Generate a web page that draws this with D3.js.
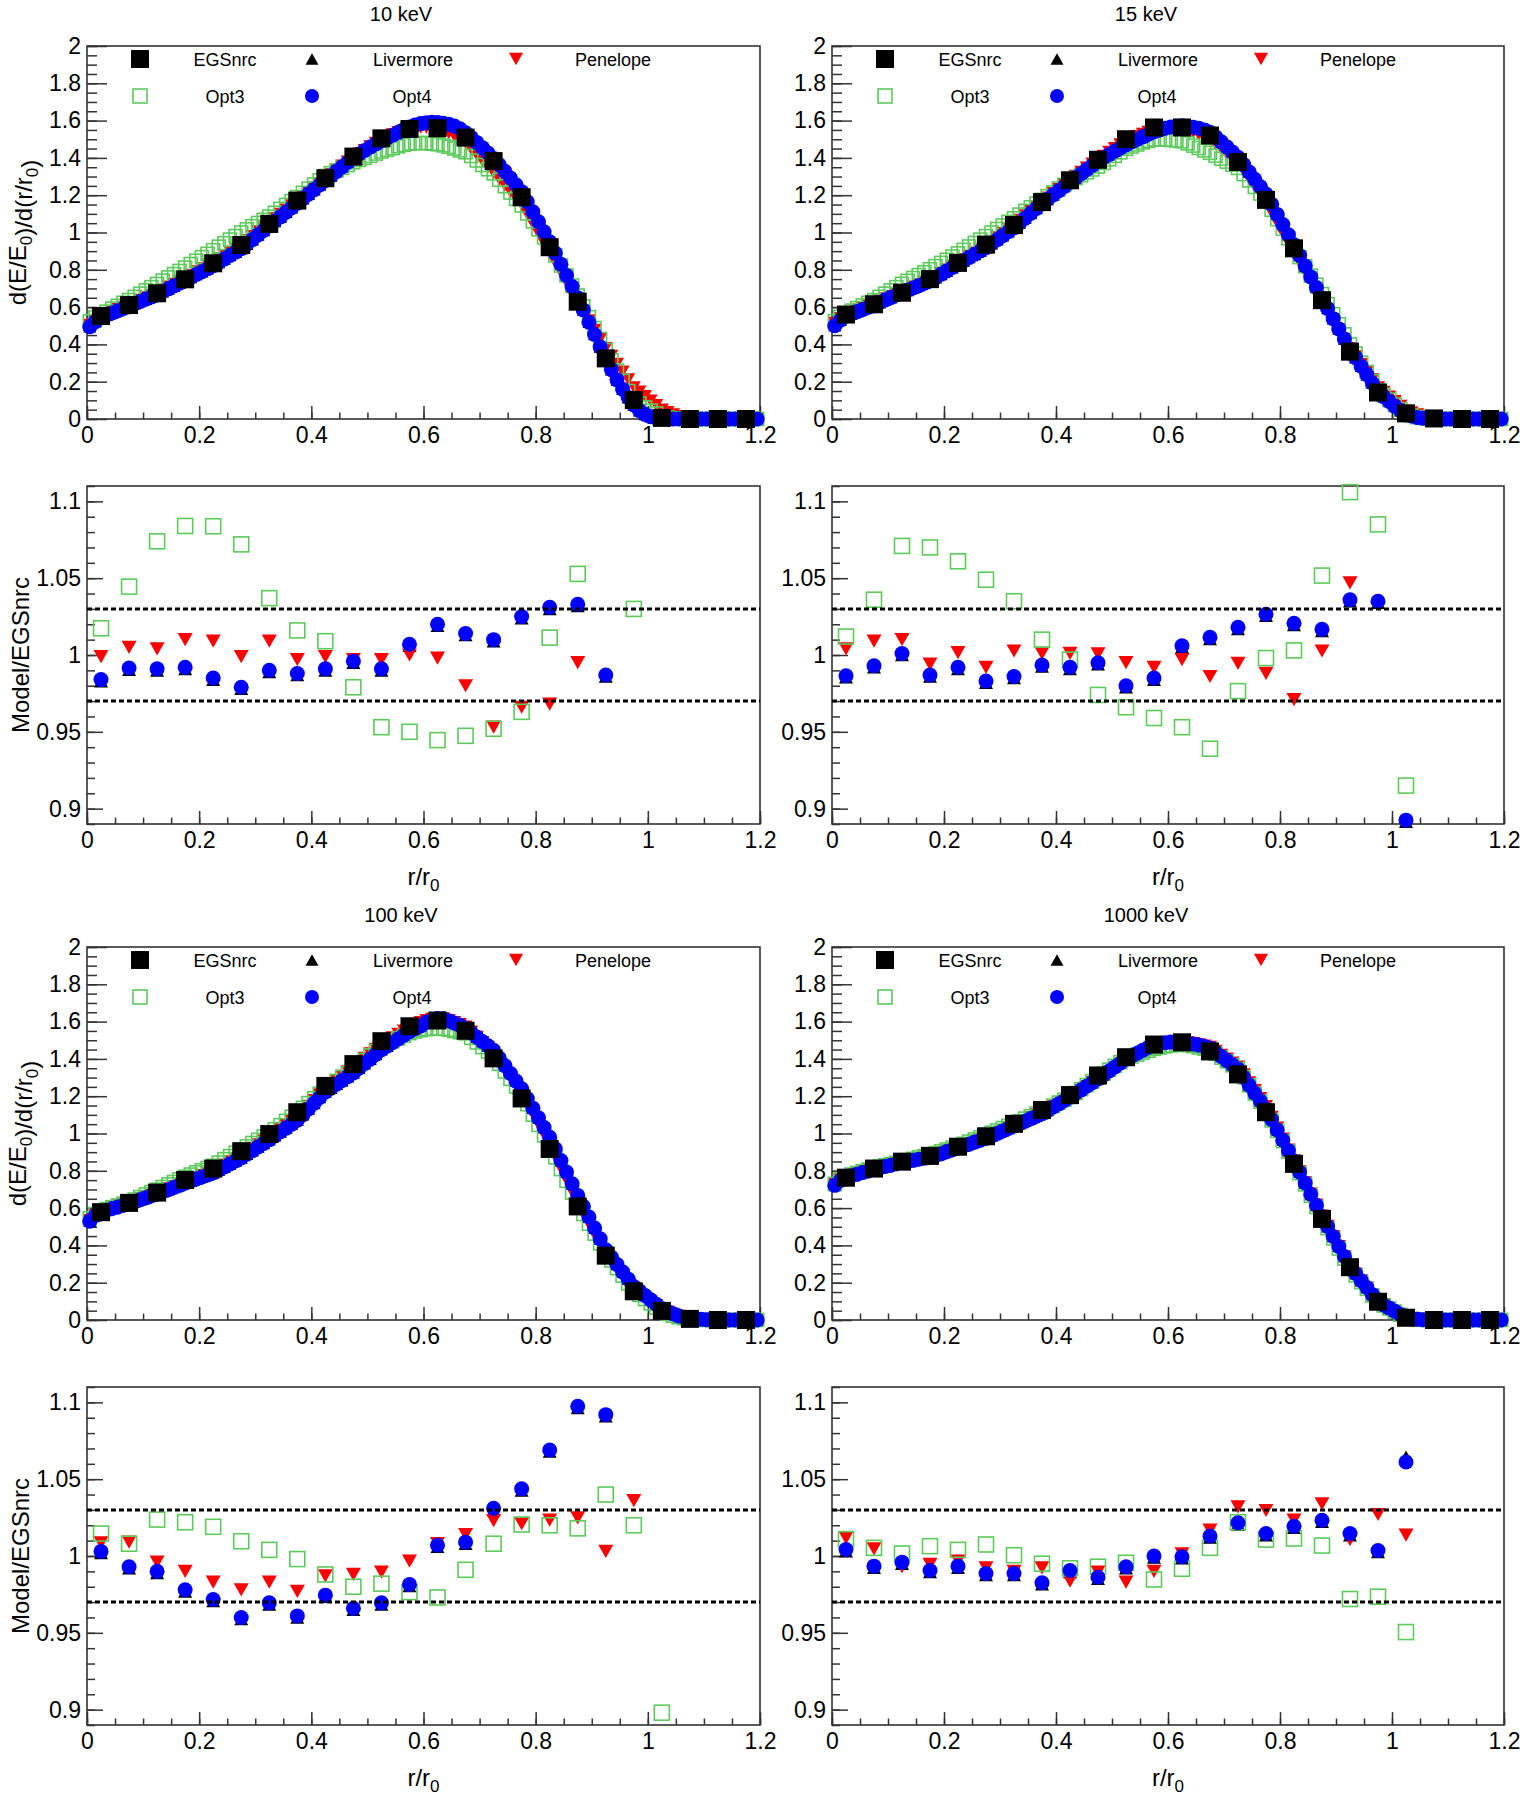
<!DOCTYPE html>
<html><head><meta charset="utf-8">
<script src="https://cdn.jsdelivr.net/npm/d3@7"></script>
<style>body{margin:0;background:#fff}</style>
</head><body><script>
// ---------------- DATA ----------------
const titles = ["10 keV", "15 keV", "100 keV", "1000 keV"];
const seriesNames = ["EGSnrc", "Livermore", "Penelope", "Opt3", "Opt4"];
const xTicks = [0, 0.2, 0.4, 0.6, 0.8, 1, 1.2];
const xTickLabels = ["0", "0.2", "0.4", "0.6", "0.8", "1", "1.2"];
const yMainTicks = [0, 0.2, 0.4, 0.6, 0.8, 1, 1.2, 1.4, 1.6, 1.8, 2];
const yMainTickLabels = ["0", "0.2", "0.4", "0.6", "0.8", "1", "1.2", "1.4", "1.6", "1.8", "2"];
const yRatioTicks = [0.9, 0.95, 1, 1.05, 1.1];
const yRatioTickLabels = ["0.9", "0.95", "1", "1.05", "1.1"];
const xDomain = [0, 1.2];
const yMainDomain = [0, 2];
const yRatioDomain = [0.89, 1.11];
const ratioBand = [0.97, 1.03];

// coarse bins (EGSnrc and ratios)
const rCoarse = [0.025,0.075,0.125,0.175,0.225,0.275,0.325,0.375,0.425,0.475,0.525,0.575,0.625,0.675,0.725,0.775,0.825,0.875,0.925,0.975,1.025,1.075,1.125,1.175];
// fine bins (Geant4 models)
const rFine = [
0.005,0.015,0.025,0.035,0.045,0.055,0.065,0.075,0.085,0.095,
0.105,0.115,0.125,0.135,0.145,0.155,0.165,0.175,0.185,0.195,
0.205,0.215,0.225,0.235,0.245,0.255,0.265,0.275,0.285,0.295,
0.305,0.315,0.325,0.335,0.345,0.355,0.365,0.375,0.385,0.395,
0.405,0.415,0.425,0.435,0.445,0.455,0.465,0.475,0.485,0.495,
0.505,0.515,0.525,0.535,0.545,0.555,0.565,0.575,0.585,0.595,
0.605,0.615,0.625,0.635,0.645,0.655,0.665,0.675,0.685,0.695,
0.705,0.715,0.725,0.735,0.745,0.755,0.765,0.775,0.785,0.795,
0.805,0.815,0.825,0.835,0.845,0.855,0.865,0.875,0.885,0.895,
0.905,0.915,0.925,0.935,0.945,0.955,0.965,0.975,0.985,0.995,
1.005,1.015,1.025,1.035,1.045,1.055,1.065,1.075,1.085,1.095,
1.105,1.115,1.125,1.135,1.145,1.155,1.165,1.175,1.185,1.195];

// EGSnrc
const egs10 = [0.552,0.611,0.674,0.749,0.835,0.933,1.046,1.171,1.291,1.407,1.505,1.555,1.559,1.509,1.383,1.189,0.921,0.629,0.325,0.102,0.006,0,0,0];
const egs15 = [0.560,0.615,0.677,0.750,0.837,0.935,1.040,1.163,1.280,1.390,1.500,1.563,1.563,1.520,1.378,1.175,0.915,0.637,0.361,0.142,0.030,0.003,0,0];
const egs100 = [0.578,0.628,0.683,0.751,0.812,0.905,0.997,1.114,1.255,1.372,1.495,1.575,1.606,1.551,1.403,1.188,0.917,0.609,0.345,0.154,0.049,0.006,0,0];
const egs1000 = [0.763,0.812,0.849,0.880,0.929,0.985,1.052,1.126,1.206,1.311,1.409,1.477,1.489,1.440,1.317,1.114,0.837,0.542,0.283,0.098,0.012,0,0,0];

// 10 keV fine
const opt4_10 = [0.495,0.522,0.543,0.557,0.569,0.581,0.593,0.606,0.618,0.630,
0.643,0.655,0.668,0.683,0.698,0.713,0.728,0.743,0.759,0.775,
0.790,0.806,0.822,0.840,0.858,0.877,0.895,0.913,0.937,0.962,
0.987,1.011,1.036,1.060,1.084,1.109,1.133,1.157,1.181,1.206,
1.230,1.255,1.279,1.303,1.328,1.352,1.377,1.401,1.421,1.440,
1.458,1.475,1.491,1.507,1.522,1.537,1.552,1.566,1.576,1.584,
1.589,1.591,1.590,1.586,1.580,1.571,1.556,1.535,1.510,1.483,
1.455,1.426,1.397,1.363,1.328,1.292,1.256,1.219,1.165,1.111,
1.058,1.004,0.950,0.890,0.830,0.770,0.710,0.650,0.585,0.519,
0.453,0.387,0.321,0.265,0.210,0.160,0.115,0.075,0.045,0.025,
0.012,0.005,0.002,0.001,0,0,0,0,0,0,
0,0,0,0,0,0,0,0,0,0];
const liv10 = [0.495,0.522,0.543,0.557,0.569,0.581,0.593,0.606,0.618,0.630,
0.643,0.655,0.668,0.683,0.698,0.713,0.728,0.743,0.759,0.775,
0.790,0.806,0.822,0.840,0.858,0.877,0.895,0.913,0.937,0.962,
0.987,1.011,1.036,1.060,1.084,1.109,1.133,1.157,1.181,1.206,
1.230,1.255,1.279,1.303,1.328,1.352,1.377,1.401,1.421,1.440,
1.458,1.475,1.491,1.507,1.522,1.537,1.552,1.566,1.576,1.584,
1.589,1.591,1.590,1.586,1.580,1.571,1.556,1.535,1.510,1.483,
1.455,1.426,1.397,1.363,1.328,1.292,1.256,1.219,1.165,1.111,
1.058,1.004,0.950,0.890,0.830,0.770,0.710,0.650,0.585,0.519,
0.453,0.387,0.321,0.265,0.210,0.160,0.115,0.075,0.045,0.025,
0.012,0.005,0.002,0.001,0,0,0,0,0,0,
0,0,0,0,0,0,0,0,0,0];
const pen10 = [0.505,0.530,0.551,0.564,0.576,0.589,0.601,0.614,0.627,0.639,
0.652,0.664,0.677,0.693,0.709,0.724,0.740,0.756,0.773,0.791,
0.808,0.826,0.843,0.861,0.879,0.896,0.914,0.932,0.957,0.981,
1.006,1.030,1.055,1.077,1.100,1.122,1.145,1.167,1.192,1.216,
1.241,1.265,1.290,1.313,1.335,1.358,1.380,1.403,1.423,1.442,
1.462,1.481,1.500,1.513,1.526,1.538,1.548,1.555,1.560,1.562,
1.562,1.560,1.556,1.547,1.533,1.517,1.499,1.479,1.447,1.415,
1.383,1.350,1.318,1.284,1.250,1.217,1.183,1.149,1.098,1.046,
0.995,0.943,0.892,0.839,0.786,0.732,0.679,0.626,0.577,0.528,
0.478,0.429,0.380,0.338,0.296,0.254,0.212,0.170,0.146,0.122,
0.098,0.074,0.050,0.037,0.025,0.015,0.008,0.004,0.002,0.001,
0,0,0,0,0,0,0,0,0,0];
const opt3_10 = [0.525,0.545,0.561,0.576,0.592,0.607,0.623,0.638,0.655,0.672,
0.690,0.707,0.724,0.742,0.759,0.777,0.794,0.812,0.831,0.849,
0.868,0.886,0.905,0.924,0.943,0.962,0.981,1.000,1.017,1.034,
1.051,1.068,1.085,1.106,1.127,1.148,1.169,1.190,1.213,1.235,
1.258,1.280,1.303,1.318,1.333,1.347,1.362,1.377,1.389,1.400,
1.411,1.423,1.434,1.443,1.452,1.462,1.470,1.477,1.479,1.480,
1.479,1.476,1.473,1.467,1.459,1.450,1.440,1.430,1.410,1.386,
1.362,1.339,1.317,1.283,1.248,1.214,1.180,1.145,1.102,1.060,
1.017,0.974,0.931,0.877,0.823,0.770,0.716,0.662,0.604,0.546,
0.488,0.429,0.370,0.315,0.260,0.205,0.150,0.105,0.083,0.062,
0.045,0.030,0.015,0.008,0.004,0.002,0.001,0,0,0,
0,0,0,0,0,0,0,0,0,0];

// 15 keV fine
const opt4_15 = [0.500,0.530,0.552,0.564,0.576,0.587,0.599,0.611,0.624,0.638,
0.651,0.665,0.678,0.690,0.703,0.715,0.728,0.740,0.758,0.776,
0.794,0.812,0.830,0.848,0.866,0.883,0.901,0.919,0.940,0.961,
0.983,1.004,1.025,1.051,1.077,1.103,1.129,1.155,1.178,1.201,
1.224,1.247,1.270,1.293,1.315,1.338,1.360,1.383,1.401,1.418,
1.436,1.453,1.470,1.485,1.499,1.513,1.527,1.540,1.550,1.559,
1.566,1.570,1.572,1.570,1.565,1.559,1.550,1.537,1.513,1.486,
1.459,1.431,1.403,1.364,1.324,1.285,1.245,1.206,1.152,1.097,
1.043,0.988,0.934,0.877,0.820,0.762,0.705,0.648,0.593,0.538,
0.483,0.429,0.374,0.329,0.283,0.238,0.192,0.147,0.120,0.094,
0.068,0.045,0.027,0.016,0.008,0.004,0.002,0.001,0,0,
0,0,0,0,0,0,0,0,0,0];
const liv15 = [0.500,0.530,0.552,0.564,0.576,0.587,0.599,0.611,0.624,0.638,
0.651,0.665,0.678,0.690,0.703,0.715,0.728,0.740,0.758,0.776,
0.794,0.812,0.830,0.848,0.866,0.883,0.901,0.919,0.940,0.961,
0.983,1.004,1.025,1.051,1.077,1.103,1.129,1.155,1.178,1.201,
1.224,1.247,1.270,1.293,1.315,1.338,1.360,1.383,1.401,1.418,
1.436,1.453,1.470,1.485,1.499,1.513,1.527,1.540,1.550,1.559,
1.566,1.570,1.572,1.570,1.565,1.559,1.550,1.537,1.513,1.486,
1.459,1.431,1.403,1.364,1.324,1.285,1.245,1.206,1.152,1.097,
1.043,0.988,0.934,0.877,0.820,0.762,0.705,0.648,0.593,0.538,
0.483,0.429,0.374,0.329,0.283,0.238,0.192,0.147,0.120,0.094,
0.068,0.045,0.027,0.016,0.008,0.004,0.002,0.001,0,0,
0,0,0,0,0,0,0,0,0,0];
const pen15 = [0.515,0.541,0.562,0.574,0.586,0.597,0.609,0.621,0.634,0.646,
0.659,0.671,0.684,0.696,0.709,0.721,0.734,0.746,0.764,0.783,
0.801,0.820,0.838,0.856,0.874,0.892,0.910,0.928,0.951,0.974,
0.997,1.020,1.043,1.067,1.091,1.116,1.140,1.164,1.187,1.211,
1.234,1.258,1.281,1.303,1.325,1.347,1.369,1.391,1.411,1.432,
1.452,1.473,1.493,1.505,1.517,1.528,1.540,1.550,1.554,1.557,
1.559,1.559,1.558,1.549,1.537,1.525,1.512,1.499,1.473,1.448,
1.422,1.397,1.371,1.329,1.287,1.245,1.203,1.161,1.106,1.052,
0.997,0.943,0.888,0.838,0.788,0.739,0.689,0.639,0.587,0.535,
0.482,0.430,0.378,0.336,0.294,0.254,0.212,0.170,0.145,0.120,
0.095,0.070,0.045,0.035,0.025,0.017,0.012,0.008,0.005,0.003,
0.002,0.001,0,0,0,0,0,0,0,0];
const opt3_15 = [0.525,0.548,0.567,0.581,0.595,0.609,0.623,0.637,0.655,0.672,
0.690,0.707,0.725,0.741,0.756,0.772,0.787,0.803,0.820,0.837,
0.854,0.871,0.888,0.907,0.925,0.944,0.962,0.981,1.000,1.019,
1.038,1.057,1.076,1.096,1.116,1.135,1.155,1.175,1.195,1.215,
1.236,1.256,1.276,1.292,1.307,1.323,1.338,1.354,1.373,1.392,
1.411,1.430,1.449,1.461,1.472,1.483,1.492,1.499,1.500,1.499,
1.496,1.493,1.489,1.478,1.466,1.453,1.440,1.427,1.412,1.396,
1.380,1.364,1.346,1.313,1.279,1.244,1.209,1.173,1.122,1.071,
1.020,0.969,0.918,0.868,0.819,0.769,0.720,0.670,0.616,0.562,
0.508,0.454,0.400,0.351,0.302,0.252,0.203,0.154,0.129,0.104,
0.078,0.053,0.028,0.018,0.010,0.005,0.003,0.001,0,0,
0,0,0,0,0,0,0,0,0,0];

// 100 keV fine
const opt4_100 = [0.530,0.560,0.580,0.589,0.598,0.606,0.615,0.624,0.634,0.645,
0.655,0.666,0.676,0.688,0.699,0.711,0.722,0.734,0.745,0.756,
0.767,0.778,0.789,0.805,0.821,0.837,0.853,0.869,0.889,0.908,
0.928,0.947,0.967,0.988,1.009,1.029,1.050,1.071,1.101,1.132,
1.162,1.193,1.223,1.243,1.264,1.284,1.305,1.325,1.350,1.375,
1.399,1.424,1.449,1.468,1.488,1.507,1.527,1.546,1.562,1.577,
1.596,1.610,1.617,1.615,1.605,1.592,1.580,1.565,1.541,1.517,
1.493,1.470,1.446,1.405,1.364,1.322,1.281,1.240,1.188,1.136,
1.084,1.032,0.980,0.918,0.855,0.793,0.730,0.668,0.610,0.552,
0.493,0.435,0.377,0.337,0.298,0.258,0.219,0.180,0.156,0.132,
0.108,0.084,0.060,0.046,0.033,0.022,0.014,0.010,0.006,0.004,
0.002,0.001,0,0,0,0,0,0,0,0];
const liv100 = [0.530,0.560,0.580,0.589,0.598,0.606,0.615,0.624,0.634,0.645,
0.655,0.666,0.676,0.688,0.699,0.711,0.722,0.734,0.745,0.756,
0.767,0.778,0.789,0.805,0.821,0.837,0.853,0.869,0.889,0.908,
0.928,0.947,0.967,0.988,1.009,1.029,1.050,1.071,1.101,1.132,
1.162,1.193,1.223,1.243,1.264,1.284,1.305,1.325,1.350,1.375,
1.399,1.424,1.449,1.468,1.488,1.507,1.527,1.546,1.562,1.577,
1.596,1.610,1.617,1.615,1.605,1.592,1.580,1.565,1.541,1.517,
1.493,1.470,1.446,1.405,1.364,1.322,1.281,1.240,1.188,1.136,
1.084,1.032,0.980,0.918,0.855,0.793,0.730,0.668,0.610,0.552,
0.493,0.435,0.377,0.337,0.298,0.258,0.219,0.180,0.156,0.132,
0.108,0.084,0.060,0.046,0.033,0.022,0.014,0.010,0.006,0.004,
0.002,0.001,0,0,0,0,0,0,0,0];
const pen100 = [0.535,0.563,0.583,0.593,0.603,0.614,0.624,0.634,0.643,0.652,
0.662,0.671,0.680,0.693,0.705,0.718,0.730,0.743,0.754,0.765,
0.776,0.787,0.798,0.815,0.833,0.850,0.868,0.885,0.904,0.923,
0.942,0.961,0.980,1.002,1.023,1.045,1.066,1.088,1.118,1.148,
1.179,1.209,1.239,1.262,1.286,1.309,1.333,1.356,1.381,1.405,
1.430,1.454,1.479,1.497,1.515,1.534,1.552,1.570,1.584,1.597,
1.608,1.615,1.619,1.617,1.608,1.597,1.586,1.573,1.546,1.518,
1.490,1.463,1.435,1.391,1.346,1.302,1.257,1.213,1.158,1.103,
1.048,0.993,0.938,0.875,0.812,0.750,0.687,0.624,0.568,0.513,
0.457,0.402,0.346,0.309,0.272,0.235,0.197,0.160,0.140,0.120,
0.100,0.080,0.060,0.045,0.032,0.022,0.015,0.010,0.006,0.004,
0.002,0.001,0,0,0,0,0,0,0,0];
const opt3_100 = [0.545,0.569,0.586,0.595,0.605,0.614,0.624,0.633,0.646,0.659,
0.673,0.686,0.699,0.713,0.727,0.740,0.754,0.768,0.780,0.792,
0.803,0.815,0.827,0.844,0.862,0.879,0.897,0.914,0.931,0.949,
0.966,0.984,1.001,1.023,1.045,1.068,1.090,1.112,1.138,1.163,
1.189,1.214,1.240,1.261,1.282,1.303,1.324,1.345,1.370,1.394,
1.419,1.443,1.468,1.482,1.496,1.510,1.524,1.538,1.547,1.554,
1.559,1.562,1.563,1.561,1.556,1.549,1.543,1.537,1.513,1.488,
1.463,1.439,1.414,1.374,1.333,1.293,1.252,1.212,1.157,1.101,
1.046,0.990,0.935,0.872,0.809,0.746,0.683,0.620,0.568,0.516,
0.463,0.411,0.359,0.319,0.278,0.238,0.197,0.157,0.134,0.112,
0.089,0.067,0.044,0.033,0.023,0.015,0.009,0.006,0.003,0.001,
0,0,0,0,0,0,0,0,0,0];

// 1000 keV fine
const opt4_1000 = [0.722,0.748,0.766,0.774,0.782,0.791,0.799,0.807,0.815,0.823,
0.830,0.838,0.846,0.851,0.856,0.862,0.867,0.872,0.882,0.892,
0.903,0.913,0.923,0.933,0.943,0.954,0.964,0.974,0.987,1.000,
1.014,1.027,1.040,1.053,1.066,1.080,1.093,1.106,1.124,1.142,
1.159,1.177,1.195,1.215,1.234,1.254,1.273,1.293,1.314,1.335,
1.357,1.378,1.399,1.415,1.430,1.446,1.462,1.477,1.483,1.487,
1.490,1.490,1.488,1.485,1.480,1.474,1.467,1.459,1.436,1.413,
1.391,1.368,1.345,1.302,1.259,1.216,1.173,1.130,1.075,1.019,
0.964,0.908,0.853,0.793,0.734,0.674,0.615,0.555,0.501,0.448,
0.394,0.341,0.287,0.249,0.211,0.174,0.136,0.098,0.081,0.064,
0.047,0.030,0.013,0.008,0.004,0.002,0.001,0,0,0,
0,0,0,0,0,0,0,0,0,0];
const liv1000 = [0.722,0.748,0.766,0.774,0.782,0.791,0.799,0.807,0.815,0.823,
0.830,0.838,0.846,0.851,0.856,0.862,0.867,0.872,0.882,0.892,
0.903,0.913,0.923,0.933,0.943,0.954,0.964,0.974,0.987,1.000,
1.014,1.027,1.040,1.053,1.066,1.080,1.093,1.106,1.124,1.142,
1.159,1.177,1.195,1.215,1.234,1.254,1.273,1.293,1.314,1.335,
1.357,1.378,1.399,1.415,1.430,1.446,1.462,1.477,1.483,1.487,
1.490,1.490,1.488,1.485,1.480,1.474,1.467,1.459,1.436,1.413,
1.391,1.368,1.345,1.302,1.259,1.216,1.173,1.130,1.075,1.019,
0.964,0.908,0.853,0.793,0.734,0.674,0.615,0.555,0.501,0.448,
0.394,0.341,0.287,0.249,0.211,0.174,0.136,0.098,0.081,0.064,
0.047,0.030,0.013,0.008,0.004,0.002,0.001,0,0,0,
0,0,0,0,0,0,0,0,0,0];
const pen1000 = [0.728,0.754,0.772,0.781,0.790,0.798,0.807,0.816,0.821,0.827,
0.832,0.838,0.843,0.849,0.856,0.862,0.869,0.875,0.885,0.896,
0.906,0.916,0.926,0.936,0.946,0.957,0.967,0.977,0.990,1.003,
1.015,1.028,1.041,1.056,1.071,1.087,1.102,1.117,1.131,1.145,
1.158,1.172,1.186,1.208,1.230,1.253,1.275,1.297,1.315,1.332,
1.350,1.367,1.385,1.400,1.416,1.431,1.447,1.462,1.470,1.478,
1.485,1.489,1.491,1.489,1.484,1.478,1.471,1.464,1.443,1.422,
1.401,1.380,1.359,1.317,1.274,1.232,1.189,1.147,1.089,1.031,
0.972,0.914,0.856,0.797,0.738,0.678,0.619,0.560,0.505,0.450,
0.396,0.341,0.286,0.249,0.212,0.174,0.137,0.100,0.082,0.065,
0.047,0.030,0.012,0.007,0.004,0.002,0.001,0,0,0,
0,0,0,0,0,0,0,0,0,0];
const opt3_1000 = [0.730,0.755,0.771,0.780,0.789,0.798,0.807,0.816,0.823,0.830,
0.836,0.843,0.850,0.857,0.864,0.872,0.879,0.886,0.895,0.905,
0.914,0.924,0.933,0.945,0.957,0.968,0.980,0.992,1.004,1.016,
1.029,1.041,1.053,1.066,1.080,1.093,1.107,1.120,1.135,1.150,
1.166,1.181,1.196,1.217,1.238,1.260,1.281,1.302,1.322,1.342,
1.363,1.383,1.403,1.413,1.423,1.434,1.444,1.454,1.461,1.467,
1.472,1.475,1.477,1.474,1.468,1.461,1.455,1.448,1.428,1.407,
1.387,1.366,1.346,1.302,1.258,1.214,1.170,1.126,1.070,1.014,
0.959,0.903,0.847,0.787,0.727,0.666,0.606,0.546,0.492,0.438,
0.383,0.329,0.275,0.239,0.203,0.167,0.131,0.095,0.078,0.062,
0.045,0.028,0.011,0.006,0.003,0.001,0,0,0,0,
0,0,0,0,0,0,0,0,0,0];

// Ratios Model/EGSnrc at rCoarse[0..20] (null = outside the plotted range)
const opt3R10 = [1.0174,1.0445,1.074,1.084,1.0838,1.072,1.037,1.016,1.009,0.979,0.953,0.950,0.9446,0.9474,0.952,0.963,1.0113,1.0528,null,1.030,null];
const penR10  = [0.999,1.005,1.004,1.010,1.009,0.999,1.009,0.997,0.999,0.997,0.997,1.000,0.998,0.980,0.953,0.966,0.968,0.995,null,null,null];
const opt4R10 = [0.984,0.9915,0.991,0.992,0.985,0.979,0.990,0.988,0.991,0.996,0.991,1.007,1.020,1.014,1.010,1.025,1.031,1.033,0.987,null,null];
const livR10  = [0.983,0.9905,0.990,0.991,0.984,0.978,0.989,0.987,0.990,0.995,0.990,1.006,1.019,1.013,1.009,1.024,1.030,1.032,0.986,null,null];

const opt3R15 = [1.012,1.036,1.071,1.070,1.061,1.049,1.035,1.010,0.997,0.974,0.966,0.959,0.953,0.939,0.9765,0.998,1.003,1.0517,1.106,1.085,0.915];
const penR15  = [1.004,1.009,1.010,0.994,1.0015,0.992,1.0026,1.001,1.001,1.0007,0.995,0.992,0.997,0.986,0.9946,0.988,0.971,1.0026,1.047,null,null];
const opt4R15 = [0.9865,0.993,1.001,0.987,0.992,0.983,0.986,0.9935,0.992,0.995,0.980,0.985,1.006,1.0115,1.018,1.0265,1.0206,1.0167,1.036,1.035,0.8925];
const livR15  = [0.9855,0.992,1.000,0.986,0.991,0.982,0.985,0.9925,0.991,0.994,0.979,0.984,1.005,1.0105,1.017,1.0255,1.0196,1.0157,1.035,1.034,0.8915];

const opt3R100 = [1.0146,1.008,1.0237,1.022,1.019,1.0096,1.004,0.998,0.988,0.980,0.982,0.9765,0.973,0.991,1.008,1.0205,1.020,1.018,1.040,1.020,0.898];
const penR100  = [1.0086,1.009,0.996,0.990,0.983,0.978,0.983,0.977,0.987,0.988,0.9895,0.9966,1.008,1.014,1.023,1.021,1.0233,1.0248,1.003,1.036,null];
const opt4R100 = [1.003,0.993,0.990,0.978,0.9717,0.960,0.9695,0.961,0.9745,0.966,0.9695,0.9815,1.007,1.009,1.031,1.0437,1.069,1.0974,1.092,null,null];
const livR100  = [1.002,0.992,0.989,0.977,0.9707,0.959,0.9685,0.960,0.9735,0.965,0.9685,0.9805,1.006,1.008,1.030,1.0427,1.068,1.0964,1.091,null,null];

const opt3R1000 = [1.011,1.0053,1.0016,1.0064,1.004,1.0075,1.0005,0.995,0.992,0.993,0.9956,0.9847,0.9917,1.0053,1.022,1.0107,1.0114,1.0068,0.972,0.9735,0.9505];
const penR1000  = [1.0118,1.0047,0.993,0.9945,0.9966,0.9923,0.990,0.9923,0.9836,0.9895,0.983,0.990,1.0014,1.0168,1.032,1.0296,1.0233,1.034,1.0107,1.027,1.0136];
const opt4R1000 = [1.0042,0.9934,0.996,0.9906,0.9934,0.9886,0.9886,0.9826,0.9906,0.9862,0.993,1.000,0.9995,1.013,1.0216,1.0146,1.0194,1.0233,1.0146,1.0036,1.0612];
const livR1000  = [1.0032,0.9924,0.995,0.9896,0.9924,0.9876,0.9876,0.9816,0.9896,0.9852,0.992,0.999,0.9985,1.012,1.0206,1.0136,1.0184,1.0223,1.0136,1.0026,1.0645];

// ---------------- LAYOUT / STYLE ----------------
const FONT = '"Liberation Sans", Arial, Helvetica, sans-serif';
const GREEN = "#5ccb5c", BLUE = "#0000ff", RED = "#ff0000", BLACK = "#000000", AX = "#333333";
const COLS = [{l: 87, r: 760}, {l: 832, r: 1504}];
const ROWS = [{mt: 46, mb: 419, rt: 486, rb: 824}, {mt: 947, mb: 1320, rt: 1387, rb: 1725}];

const panels = [
  {title: titles[0], egs: egs10, liv: liv10, pen: pen10, o3: opt3_10, o4: opt4_10, rl: livR10, rp: penR10, r3: opt3R10, r4: opt4R10},
  {title: titles[1], egs: egs15, liv: liv15, pen: pen15, o3: opt3_15, o4: opt4_15, rl: livR15, rp: penR15, r3: opt3R15, r4: opt4R15},
  {title: titles[2], egs: egs100, liv: liv100, pen: pen100, o3: opt3_100, o4: opt4_100, rl: livR100, rp: penR100, r3: opt3R100, r4: opt4R100},
  {title: titles[3], egs: egs1000, liv: liv1000, pen: pen1000, o3: opt3_1000, o4: opt4_1000, rl: livR1000, rp: penR1000, r3: opt3R1000, r4: opt4R1000}
];

const svg = d3.select("body").append("svg").attr("width", 1525).attr("height", 1800)
  .attr("font-family", FONT);
svg.append("rect").attr("width", 1525).attr("height", 1800).attr("fill", "#fff");

const triUp = (w, h) => `M0,${-h/2}L${w/2},${h/2}L${-w/2},${h/2}Z`;
const triDown = (w, h) => `M0,${h/2}L${w/2},${-h/2}L${-w/2},${-h/2}Z`;

function styleAxis(g) {
  g.select(".domain").remove();
  g.selectAll(".tick line").attr("stroke", AX).attr("stroke-width", 1.5);
  g.selectAll(".tick text").attr("fill", "#000");
  g.attr("font-family", FONT).attr("font-size", 23);
}

function drawFrameAxes(x, y, top, bot, C, yMajor, yLabels, yMinorN, yMajLen, yMinLen) {
  svg.append("rect").attr("x", C.l).attr("y", top).attr("width", C.r - C.l).attr("height", bot - top)
    .attr("fill", "none").attr("stroke", AX).attr("stroke-width", 1.6);
  svg.append("g").attr("transform", `translate(0,${bot})`)
    .call(d3.axisBottom(x).tickValues(x.ticks(24)).tickSize(-6.5).tickFormat(""))
    .call(styleAxis);
  svg.append("g").attr("transform", `translate(0,${bot})`)
    .call(d3.axisBottom(x).tickValues(xTicks).tickSize(-13).tickPadding(8).tickFormat((d, i) => xTickLabels[i]))
    .call(styleAxis);
  svg.append("g").attr("transform", `translate(${C.l},0)`)
    .call(d3.axisLeft(y).tickValues(y.ticks(yMinorN)).tickSize(-yMinLen).tickFormat(""))
    .call(styleAxis);
  svg.append("g").attr("transform", `translate(${C.l},0)`)
    .call(d3.axisLeft(y).tickValues(yMajor).tickSize(-yMajLen).tickPadding(6).tickFormat((d, i) => yLabels[i]))
    .call(styleAxis);
}

function pts(xs, ys, dom) {
  return ys.map((v, i) => ({r: xs[i], v}))
    .filter(d => d.v !== null && d.v !== undefined && (!dom || (d.v >= dom[0] && d.v <= dom[1])));
}

function drawMarkers(g, data, x, y, kind, s) {
  const sel = g.append("g").selectAll(null).data(data).enter();
  if (kind === "square") {
    sel.append("rect").attr("x", d => x(d.r) - s/2).attr("y", d => y(d.v) - s/2)
      .attr("width", s).attr("height", s).attr("fill", BLACK);
  } else if (kind === "open") {
    sel.append("rect").attr("x", d => x(d.r) - s/2).attr("y", d => y(d.v) - s/2)
      .attr("width", s).attr("height", s).attr("fill", "none").attr("stroke", GREEN).attr("stroke-width", 1.6);
  } else if (kind === "circle") {
    sel.append("circle").attr("cx", d => x(d.r)).attr("cy", d => y(d.v)).attr("r", s).attr("fill", BLUE);
  } else if (kind === "up") {
    sel.append("path").attr("d", triUp(s, s * 0.9)).attr("transform", d => `translate(${x(d.r)},${y(d.v)})`).attr("fill", BLACK);
  } else if (kind === "down") {
    sel.append("path").attr("d", triDown(s, s * 0.88)).attr("transform", d => `translate(${x(d.r)},${y(d.v)})`).attr("fill", RED);
  }
}

function subText(sel, parts) {
  parts.forEach(p => {
    if (p.sub) {
      sel.append("tspan").attr("font-size", 17).attr("dy", 6).text(p.t);
      sel.append("tspan").attr("dy", -6).text("");
    } else {
      sel.append("tspan").text(p.t);
    }
  });
}

panels.forEach((P, i) => {
  const C = COLS[i % 2], R = ROWS[Math.floor(i / 2)];
  const x = d3.scaleLinear().domain(xDomain).range([C.l, C.r]);
  const y = d3.scaleLinear().domain(yMainDomain).range([R.mb, R.mt]);
  const yr = d3.scaleLinear().domain(yRatioDomain).range([R.rb, R.rt]);

  // title
  svg.append("text").attr("x", C.l + 314).attr("y", R.mt - 25).attr("text-anchor", "middle")
    .attr("font-size", 20).text(P.title);

  // --- main panel ---
  drawFrameAxes(x, y, R.mt, R.mb, C, yMainTicks, yMainTickLabels, 40, 20, 10);
  const gm = svg.append("g");
  drawMarkers(gm, pts(rFine, P.liv), x, y, "up", 13);
  drawMarkers(gm, pts(rFine, P.pen), x, y, "down", 14);
  drawMarkers(gm, pts(rFine, P.o3), x, y, "open", 13);
  drawMarkers(gm, pts(rFine, P.o4), x, y, "circle", 7.5);
  drawMarkers(gm, pts(rCoarse, P.egs), x, y, "square", 18);

  // legend
  const L = svg.append("g");
  const ly1 = R.mt + 13, ly2 = R.mt + 50;
  const leg = [
    {kind: "square", s: 18, mx: 53, tx: 138, y: ly1, name: seriesNames[0]},
    {kind: "up", s: 13, mx: 225, tx: 326, y: ly1, name: seriesNames[1]},
    {kind: "down", s: 14, mx: 429, tx: 526, y: ly1, name: seriesNames[2]},
    {kind: "open", s: 14, mx: 53, tx: 138, y: ly2, name: seriesNames[3]},
    {kind: "circle", s: 7, mx: 225, tx: 325, y: ly2, name: seriesNames[4]}
  ];
  leg.forEach(e => {
    const lx = d3.scaleLinear().domain([0, 1]).range([C.l + e.mx, C.l + e.mx + 1]);
    const ly = d3.scaleLinear().domain([0, 1]).range([e.y, e.y - 1]);
    drawMarkers(L, [{r: 0, v: 0}], lx, ly, e.kind, e.s);
    L.append("text").attr("x", C.l + e.tx).attr("y", e.y + 6.5).attr("text-anchor", "middle")
      .attr("font-size", 18).text(e.name);
  });

  // --- ratio panel ---
  drawFrameAxes(x, yr, R.rt, R.rb, C, yRatioTicks, yRatioTickLabels, 22, 16, 8);
  const gr = svg.append("g");
  drawMarkers(gr, pts(rCoarse, P.rl, yRatioDomain), x, yr, "up", 14);
  drawMarkers(gr, pts(rCoarse, P.rp, yRatioDomain), x, yr, "down", 15);
  drawMarkers(gr, pts(rCoarse, P.r3, yRatioDomain), x, yr, "open", 15);
  drawMarkers(gr, pts(rCoarse, P.r4, yRatioDomain), x, yr, "circle", 7.5);
  svg.append("g").selectAll(null).data(ratioBand).enter().append("line")
    .attr("x1", C.l).attr("x2", C.r).attr("y1", d => yr(d)).attr("y2", d => yr(d))
    .attr("stroke", "#000").attr("stroke-width", 3).attr("stroke-dasharray", "5,3");

  // x title
  const xt = svg.append("text").attr("x", (C.l + C.r) / 2).attr("y", R.rb + 61)
    .attr("text-anchor", "middle").attr("font-size", 24);
  subText(xt, [{t: "r/r"}, {t: "0", sub: true}]);

  // y titles (left column only)
  if (i % 2 === 0) {
    const cy = (R.mt + R.mb) / 2;
    const t1 = svg.append("text").attr("transform", `translate(26,${cy}) rotate(-90)`)
      .attr("text-anchor", "middle").attr("font-size", 24);
    subText(t1, [{t: "d(E/E"}, {t: "0", sub: true}, {t: ")/d(r/r"}, {t: "0", sub: true}, {t: ")"}]);
    const cr = (R.rt + R.rb) / 2;
    svg.append("text").attr("transform", `translate(29,${cr}) rotate(-90)`)
      .attr("text-anchor", "middle").attr("font-size", 24).text("Model/EGSnrc");
  }
});
</script></body></html>
